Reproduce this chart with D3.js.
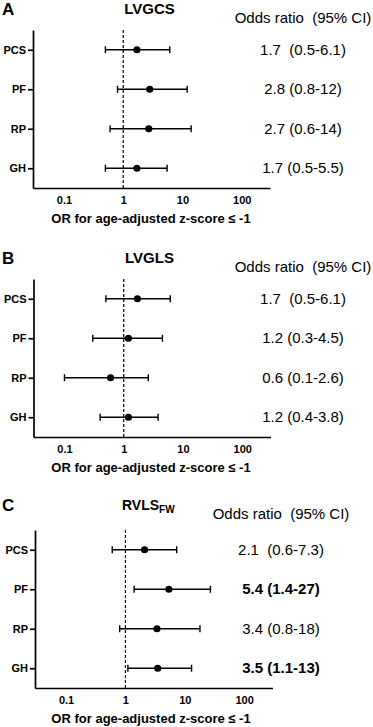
<!DOCTYPE html>
<html>
<head>
<meta charset="utf-8">
<script src="https://cdn.jsdelivr.net/npm/d3@7"></script>
<style>
  body { margin: 0; background: #fff; }
  svg { display: block; font-family: "Liberation Sans", Arial, sans-serif; }
  .axis path, .axis line { stroke: #000; stroke-width: 1.7px; }
  .axis text { font-size: 11px; font-weight: bold; fill: #000; font-family: "Liberation Sans", Arial, sans-serif; }
</style>
</head>
<body>
<svg id="chart" width="373" height="727"></svg>
<script>
// data
var measures = ["PCS", "PF", "RP", "GH"];
var xTicks = [0.1, 1, 10, 100];

var orA = [1.7, 2.8, 2.7, 1.7];
var loA = [0.5, 0.8, 0.6, 0.5];
var hiA = [6.1, 12, 14, 5.5];

var orB = [1.7, 1.2, 0.6, 1.2];
var loB = [0.5, 0.3, 0.1, 0.4];
var hiB = [6.1, 4.5, 2.6, 3.8];

var orC = [2.1, 5.4, 3.4, 3.5];
var loC = [0.6, 1.4, 0.8, 1.1];
var hiC = [7.3, 27, 18, 13];
var boldC = [false, true, false, true];

var panels = [
  { letter: "A", title: "LVGCS", sub: "", or: orA, lo: loA, hi: hiA, bold: [false, false, false, false],
    top: 30, left: 33, right: 270, labCx: 303, titleDy: 0, titleSize: 15 },
  { letter: "B", title: "LVGLS", sub: "", or: orB, lo: loB, hi: hiB, bold: [false, false, false, false],
    top: 279, left: 33.5, right: 270.5, labCx: 303, titleDy: 0, titleSize: 15 },
  { letter: "C", title: "RVLS", sub: "FW", or: orC, lo: loC, hi: hiC, bold: boldC,
    top: 530, left: 35, right: 272.5, labCx: 281, titleDy: -4, titleSize: 14 }
];

var plotH = 158;
var svg = d3.select("#chart");

function ciLabel(p, i) {
  // first row uses a double space like the original
  return p.or[i].toFixed(1) + (i === 0 ? "  " : " ") + "(" + p.lo[i] + "-" + p.hi[i] + ")";
}

panels.forEach(function(p) {
  var g = svg.append("g");

  var x = d3.scaleLog().domain([0.03, 300]).range([p.left, p.right]);
  var y = d3.scalePoint().domain(measures).range([p.top, p.top + plotH]).padding(0.5);
  var bottom = p.top + plotH;

  // panel letter + title
  g.append("text")
    .attr("x", 2).attr("y", p.top - 15 + p.titleDy)
    .style("font-size", "17px").style("font-weight", "bold")
    .text(p.letter);

  var t = g.append("text")
    .attr("x", p.sub ? 122 : 149.5).attr("y", p.top - 16 + p.titleDy)
    .attr("text-anchor", p.sub ? "start" : "middle")
    .style("font-size", p.titleSize + "px").style("font-weight", "bold")
    .text(p.title);
  if (p.sub) {
    t.append("tspan").attr("dy", 3).style("font-size", "10px").text(p.sub);
  }

  // header
  g.append("text")
    .attr("x", p.labCx).attr("y", p.top - 7 + p.titleDy)
    .attr("text-anchor", "middle")
    .style("font-size", "15px")
    .attr("xml:space", "preserve")
    .text("Odds ratio  (95% CI)");

  // axes
  g.append("g")
    .attr("class", "axis")
    .attr("transform", "translate(0," + bottom + ")")
    .call(d3.axisBottom(x).tickValues(xTicks).tickFormat(d3.format("")).tickSize(0).tickPadding(8));

  g.append("g")
    .attr("class", "axis")
    .attr("transform", "translate(" + p.left + ",0)")
    .call(d3.axisLeft(y).tickSize(5).tickSizeOuter(0).tickPadding(2));

  // x label
  g.append("text")
    .attr("x", 151).attr("y", bottom + 35)
    .attr("text-anchor", "middle")
    .style("font-size", "13px").style("font-weight", "bold")
    .text("OR for age-adjusted z-score \u2264 -1");

  // reference line at 1
  g.append("line")
    .attr("x1", x(1)).attr("x2", x(1))
    .attr("y1", p.top).attr("y2", bottom)
    .attr("stroke", "#000").attr("stroke-width", 1.2)
    .attr("stroke-dasharray", "3,2");

  // whiskers
  var rows = g.selectAll(".row").data(measures).enter().append("g").attr("class", "row");
  rows.append("line")
    .attr("x1", function(d, i) { return x(p.lo[i]); })
    .attr("x2", function(d, i) { return x(p.hi[i]); })
    .attr("y1", function(d) { return y(d); })
    .attr("y2", function(d) { return y(d); })
    .attr("stroke", "#000").attr("stroke-width", 1.6);
  ["lo", "hi"].forEach(function(k) {
    rows.append("line")
      .attr("x1", function(d, i) { return x(p[k][i]); })
      .attr("x2", function(d, i) { return x(p[k][i]); })
      .attr("y1", function(d) { return y(d) - 3.5; })
      .attr("y2", function(d) { return y(d) + 3.5; })
      .attr("stroke", "#000").attr("stroke-width", 1.4);
  });
  rows.append("circle")
    .attr("cx", function(d, i) { return x(p.or[i]); })
    .attr("cy", function(d) { return y(d); })
    .attr("r", 3.6)
    .attr("fill", "#000");

  // CI labels
  rows.append("text")
    .attr("x", p.labCx)
    .attr("y", function(d) { return y(d) + 5; })
    .attr("text-anchor", "middle")
    .attr("xml:space", "preserve")
    .style("font-size", "15px")
    .style("font-weight", function(d, i) { return p.bold[i] ? "bold" : "normal"; })
    .text(function(d, i) { return ciLabel(p, i); });
});
</script>
</body>
</html>
